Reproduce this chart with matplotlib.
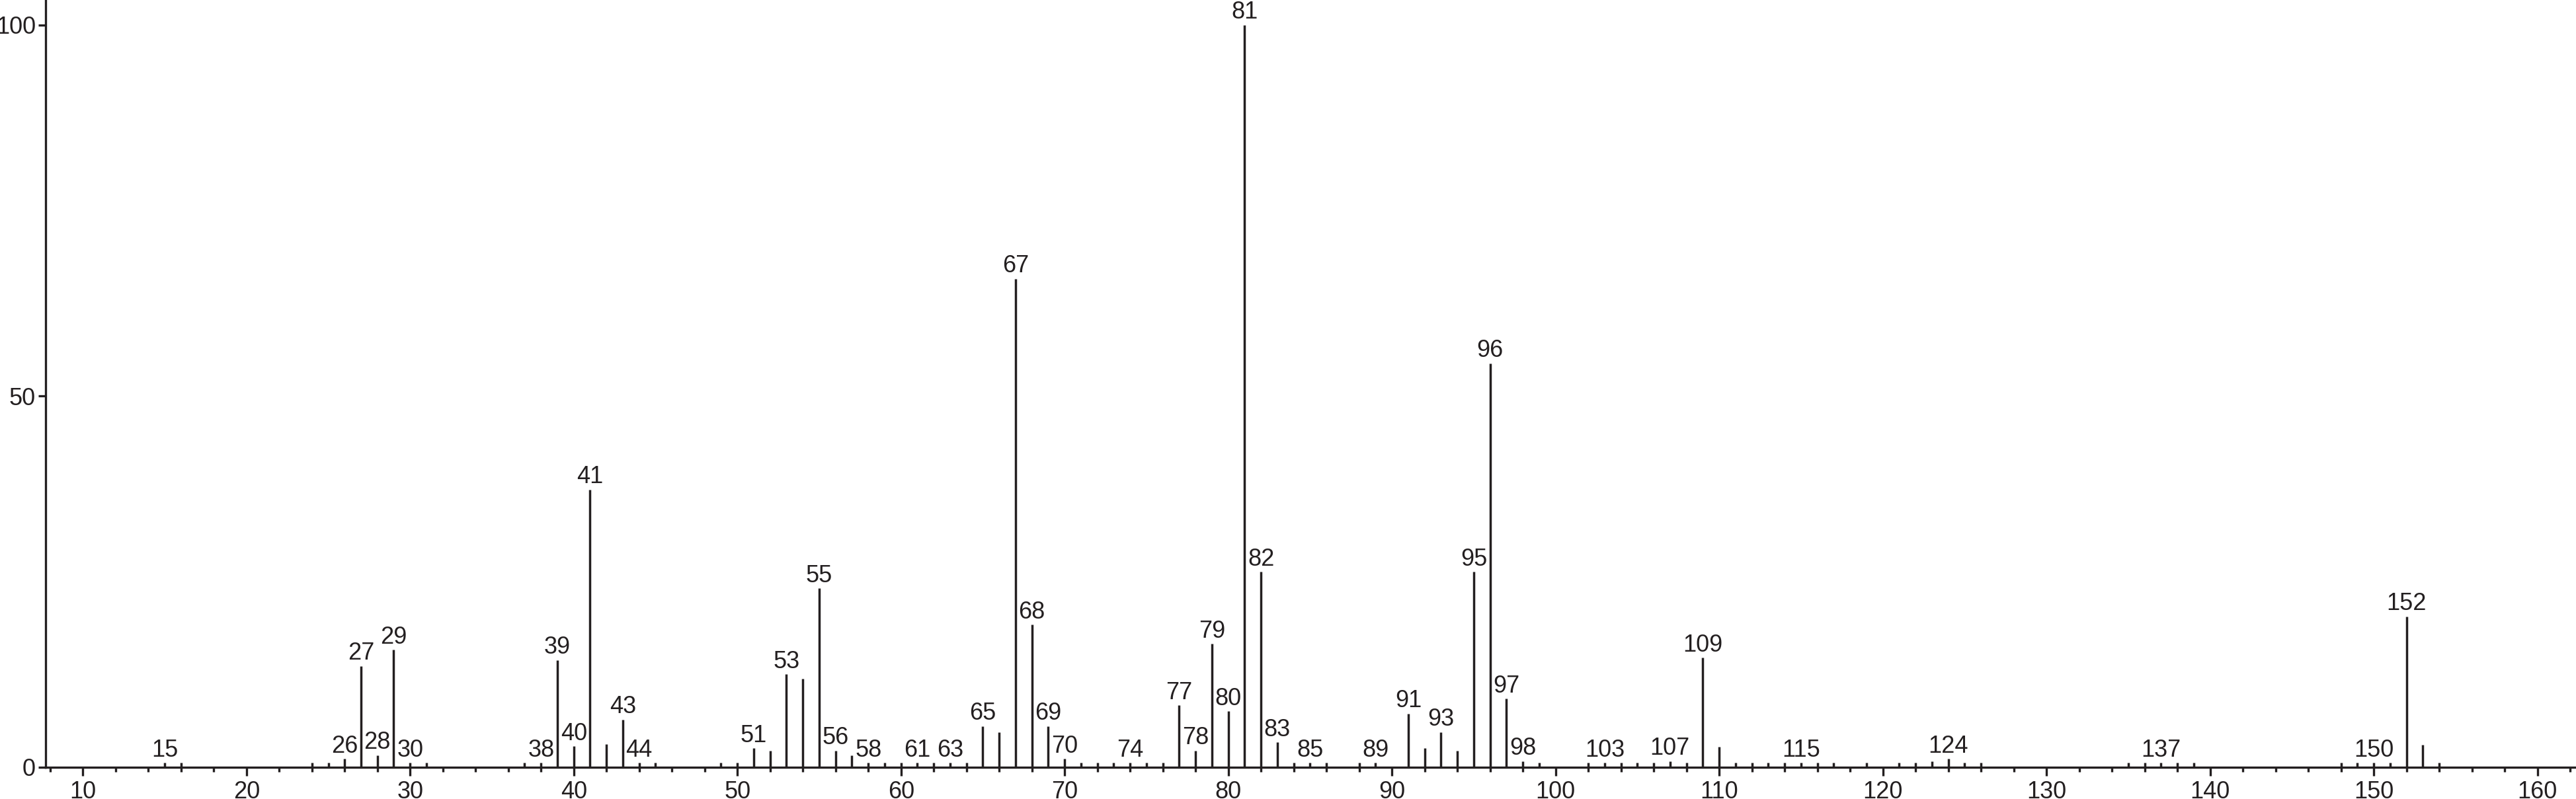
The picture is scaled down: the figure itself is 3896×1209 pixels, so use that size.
import matplotlib
matplotlib.use("Agg")
import matplotlib.pyplot as plt
from matplotlib.ticker import MultipleLocator
import numpy as np

# m/z values and relative intensities
mz = [15, 16, 24, 25, 26, 27, 28, 29, 30, 31,
      37, 38, 39, 40, 41, 42, 43, 44, 45, 49,
      50, 51, 52, 53, 54, 55, 56, 57, 58, 59,
      60, 61, 62, 63, 64, 65, 66, 67, 68, 69,
      70, 71, 72, 73, 74, 75, 76, 77, 78, 79,
      80, 81, 82, 83, 84, 85, 86, 88, 89, 91,
      92, 93, 94, 95, 96, 97, 98, 99, 102, 103,
      104, 105, 106, 107, 108, 109, 110, 111, 112, 113,
      114, 115, 116, 117, 119, 121, 122, 123, 124, 125,
      126, 135, 136, 137, 138, 139, 148, 149, 150, 151,
      152, 153, 154]
intensity = [0.55, 0.55, 0.55, 0.55, 1.1, 13.6, 1.6, 15.8, 0.55, 0.55,
             0.55, 0.55, 14.4, 2.8, 37.4, 3.1, 6.4, 0.55, 0.55, 0.55,
             0.55, 2.5, 2.2, 12.5, 11.9, 24.1, 2.2, 1.6, 0.55, 0.55,
             0.55, 0.55, 0.55, 0.55, 0.55, 5.5, 4.7, 65.8, 19.2, 5.5,
             1.1, 0.55, 0.55, 0.55, 0.55, 0.55, 0.55, 8.3, 2.2, 16.6,
             7.5, 100.0, 26.3, 3.3, 0.55, 0.55, 0.55, 0.55, 0.55, 7.2,
             2.5, 4.7, 2.2, 26.3, 54.4, 9.2, 0.8, 0.55, 0.55, 0.55,
             0.55, 0.55, 0.55, 0.8, 0.55, 14.7, 2.7, 0.55, 0.55, 0.55,
             0.55, 0.55, 0.55, 0.55, 0.55, 0.55, 0.55, 0.8, 1.1, 0.55,
             0.55, 0.55, 0.55, 0.55, 0.55, 0.55, 0.55, 0.55, 0.55, 0.55,
             20.3, 3.0, 0.55]

# peaks that carry a number above them
labelled = [15, 26, 27, 28, 29, 30, 38, 39, 40, 41, 43, 44, 51, 53, 55,
            56, 58, 61, 63, 65, 67, 68, 69, 70, 74, 77, 78, 79, 80, 81,
            82, 83, 85, 89, 91, 93, 95, 96, 97, 98, 103, 107, 109, 115,
            124, 137, 150, 152]

ink = '#231f20'
fam = ['Liberation Sans Narrow', 'Liberation Sans', 'DejaVu Sans']
plt.rcParams['font.family'] = fam

fig = plt.figure(figsize=(38.96, 12.09), dpi=100)
ax = fig.add_axes([0.0178, 0.0401, 0.9818, 0.9599])

ax.vlines(mz, 0, intensity, colors=ink, linewidth=2.5)

lookup = dict(zip(mz, intensity))
for m in labelled:
    ax.annotate(str(m), (m, lookup[m]), xytext=(0, 1), textcoords='offset points',
                ha='center', va='bottom', fontsize=26, color=ink, clip_on=False)

ax.set_xlim(7.74, 162.3)
ax.set_ylim(0, 103.36)

ax.xaxis.set_major_locator(MultipleLocator(10))
ax.xaxis.set_minor_locator(MultipleLocator(2))
ax.set_xticks(np.arange(10, 161, 10))
ax.set_yticks([0, 50, 100])

ax.tick_params(axis='x', which='major', length=9.5, width=2.4, color=ink,
               labelsize=26, labelcolor=ink, pad=5)
ax.tick_params(axis='x', which='minor', length=5, width=2.4, color=ink)
ax.tick_params(axis='y', which='major', length=8, width=2.4, color=ink,
               labelsize=26, labelcolor=ink, pad=3)

for s in ['top', 'right']:
    ax.spines[s].set_visible(False)
for s in ['left', 'bottom']:
    ax.spines[s].set_linewidth(2.4)
    ax.spines[s].set_color(ink)

fig.savefig('out.png', dpi=100)
